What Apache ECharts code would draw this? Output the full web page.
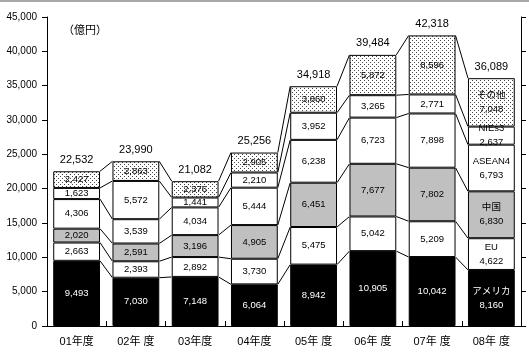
<!DOCTYPE html>
<html>
<head>
<meta charset="utf-8">
<script src="https://cdn.jsdelivr.net/npm/echarts@6/dist/echarts.min.js"></script>
<style>
html,body{margin:0;padding:0;background:#fff;}
#main{width:529px;height:359px;}
</style>
</head>
<body>
<div id="main"></div>
<script>
const categories = ['01年度','02年 度','03年度','04年度','05年 度','06年 度','07年 度','08年 度'];
const seriesNames = ['アメリカ','EU','中国','ASEAN4','NIEs3','その他'];
const usa    = [9493, 7030, 7148, 6064, 8942, 10905, 10042, 8160];
const eu     = [2663, 2393, 2892, 3730, 5475, 5042, 5209, 4622];
const china  = [2020, 2591, 3196, 4905, 6451, 7677, 7802, 6830];
const asean4 = [4306, 3539, 4034, 5444, 6238, 6723, 7898, 6793];
const nies3  = [1623, 5572, 1441, 2210, 3952, 3265, 2771, 2637];
const others = [2427, 2863, 2376, 2905, 3860, 5872, 8596, 7048];
const totals = [22532, 23990, 21082, 25256, 34918, 39484, 42318, 36089];
const yMin = 0, yMax = 45000, yStep = 5000;
const unitLabel = '（億円）';

const seriesData = [usa, eu, china, asean4, nies3, others];
const fmt = v => String(v).replace(/\B(?=(\d{3})+(?!\d))/g, ',');

// dotted pattern
const pc = document.createElement('canvas');
pc.width = 4; pc.height = 4;
const pctx = pc.getContext('2d');
pctx.fillStyle = '#fff'; pctx.fillRect(0,0,4,4);
pctx.fillStyle = '#444';
pctx.fillRect(0,0,1,1); pctx.fillRect(2,2,1,1);
const dotted = {image: pc, repeat: 'repeat'};

const fills = ['#000', '#fff', '#c0c0c0', '#fff', '#fff', dotted];
const labelColors = ['#fff', '#000', '#000', '#000', '#000', '#000'];
const BAR_RATIO = 0.79;

// cumulative boundaries
const cum = categories.map((c, i) => {
  let s = 0; const arr = [0];
  seriesData.forEach(d => { s += d[i]; arr.push(s); });
  return arr;
});

const barSeries = seriesNames.map((name, k) => ({
  name: name,
  type: 'bar',
  stack: 'total',
  barWidth: (BAR_RATIO * 100) + '%',
  data: seriesData[k],
  itemStyle: {color: fills[k], borderColor: '#000', borderWidth: 1},
  label: {
    show: true,
    position: 'inside',
    color: labelColors[k],
    fontSize: 9.5,
    fontFamily: 'Liberation Sans, Noto Sans CJK JP',
    lineHeight: 14,
    formatter: p => p.dataIndex === categories.length - 1 ? name + '\n' + fmt(p.value) : fmt(p.value)
  },
  animation: false
}));

const connector = {
  type: 'custom',
  data: categories.map((c, i) => [i, totals[i]]),
  encode: {x: 0, y: 1},
  clip: false,
  z: 5,
  animation: false,
  renderItem: (params, api) => {
    const i = api.value(0);
    const band = api.size([1, 0])[0];
    const half = band * BAR_RATIO / 2;
    const children = [];
    if (i < categories.length - 1) {
      for (let k = 1; k < cum[i].length; k++) {
        const a = api.coord([i, cum[i][k]]);
        const b = api.coord([i + 1, cum[i + 1][k]]);
        children.push({
          type: 'line',
          shape: {x1: a[0] + half, y1: a[1], x2: b[0] - half, y2: b[1]},
          style: {stroke: '#000', lineWidth: 1}
        });
      }
    }
    const t = api.coord([i, cum[i][cum[i].length - 1]]);
    children.push({
      type: 'text',
      style: {
        x: t[0], y: t[1] - 6,
        text: fmt(totals[i]),
        textAlign: 'center', textVerticalAlign: 'bottom',
        fill: '#000', fontSize: 11, fontFamily: 'Liberation Sans'
      }
    });
    return {type: 'group', children: children};
  }
};

const yAxisBase = {
  type: 'value', min: yMin, max: yMax, interval: yStep,
  splitLine: {show: false},
  axisLine: {show: true, lineStyle: {color: '#000', width: 1}},
  axisTick: {show: true, length: 5, lineStyle: {color: '#000'}}
};

const chart = echarts.init(document.getElementById('main'), null, {renderer: 'canvas'});
chart.setOption({
  animation: false,
  backgroundColor: '#fff',
  grid: {left: 47, right: 8, top: 17, bottom: 33, containLabel: false},
  xAxis: {
    type: 'category',
    data: categories,
    axisLine: {lineStyle: {color: '#000', width: 1}},
    axisTick: {show: true, inside: true, length: 5, lineStyle: {color: '#000'}},
    axisLabel: {color: '#000', fontSize: 11, margin: 10, fontFamily: 'Liberation Sans, Noto Sans CJK JP'}
  },
  yAxis: [
    Object.assign({}, yAxisBase, {
      position: 'left',
      axisLabel: {color: '#000', fontSize: 10, margin: 10, fontFamily: 'Liberation Sans', formatter: v => fmt(v)}
    }),
    Object.assign({}, yAxisBase, {
      position: 'right',
      axisLabel: {show: false}
    })
  ],
  graphic: [
    {type: 'rect', left: 0, top: 0, shape: {width: 529, height: 2}, style: {fill: '#a8a8a8'}},
    {type: 'text', left: 63, top: 24, style: {text: unitLabel, fontSize: 11, fill: '#000', fontFamily: 'Noto Sans CJK JP'}}
  ],
  series: barSeries.concat([connector])
});
</script>
</body>
</html>
